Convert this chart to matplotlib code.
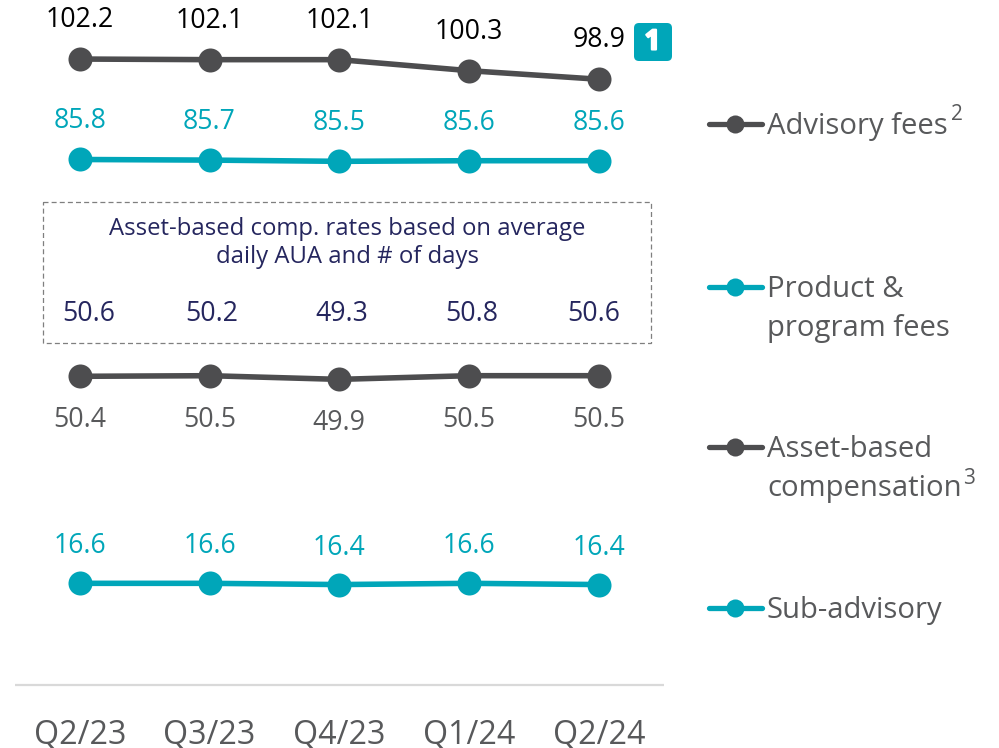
import matplotlib
matplotlib.use("Agg")
import matplotlib.pyplot as plt
import matplotlib.patheffects as pe
from matplotlib.lines import Line2D
from matplotlib.patches import Rectangle, FancyBboxPatch
from matplotlib.transforms import Affine2D

plt.rcParams['font.family'] = ['Open Sans', 'DejaVu Sans']

quarters = ["Q2/23", "Q3/23", "Q4/23", "Q1/24", "Q2/24"]
advisory = [102.2, 102.1, 102.1, 100.3, 98.9]
product = [85.8, 85.7, 85.5, 85.6, 85.6]
asset_based = [50.4, 50.5, 49.9, 50.5, 50.5]
sub_advisory = [16.6, 16.6, 16.4, 16.6, 16.4]
rates = [50.6, 50.2, 49.3, 50.8, 50.6]
rate_note = "Asset-based comp. rates based on average\ndaily AUA and # of days"
legend_names = ["Advisory fees", "Product &\nprogram fees", "Asset-based\ncompensation", "Sub-advisory"]
legend_sups = ["2", None, "3", None]

W, H = 999, 748
GRAY = "#4d4d4f"
TEAL = "#00a6b9"
TXT = "#58595b"
NAVY = "#25265e"
FS = 19.2

fig = plt.figure(figsize=(W / 100, H / 100), dpi=100)
ax = fig.add_axes([14.8 / W, 1 - 685 / H, (664 - 15) / W, 685 / H])
ax.set_xlim(-0.5, 4.5)
ax.set_ylim(0, 111.84)
for s in ("top", "left", "right"):
    ax.spines[s].set_visible(False)
ax.spines["bottom"].set_color("#d9d9d9")
ax.spines["bottom"].set_linewidth(1.6)
ax.spines["bottom"].set_capstyle("butt")
ax.set_yticks([])
ax.set_xticks(range(5))
ax.set_xticklabels(quarters, fontsize=23.2, color=TXT)
ax.tick_params(axis="x", length=0, pad=24)

px = Affine2D().scale(1, -1).translate(0, H)  # reference pixel coords

series = [
    (advisory, GRAY, "black", -39),
    (product, TEAL, TEAL, -38),
    (asset_based, GRAY, TXT, 44),
    (sub_advisory, TEAL, TEAL, -37),
]
for vals, col, tcol, off in series:
    ax.plot(range(5), vals, color=col, lw=4.0, marker="o", ms=17.3, mec="none",
            solid_capstyle="round", zorder=3)
    for i, v in enumerate(vals):
        ax.annotate(f"{v:.1f}", (i, v), xytext=(0, -off), textcoords="offset pixels",
                    ha="center", va="center", fontsize=FS, color=tcol)

# dashed note box
fig.add_artist(Rectangle((42.9, 202), 608, 140.5, transform=px, fill=False,
                         ec="#7f7f7f", lw=0.9, ls=(0, (4, 2.5))))
fig.text(347.3 / W, 1 - 243 / H, rate_note, ha="center", va="center", fontsize=17.2,
         color=NAVY, linespacing=1.21)
rate_x = [89, 212, 342, 472, 594]
for x, r in zip(rate_x, rates):
    fig.text(x / W, 1 - 314 / H, f"{r:.1f}", ha="center", va="center", fontsize=FS, color=NAVY)

# badge
fig.add_artist(FancyBboxPatch((637, 26), 32, 32, boxstyle="round,pad=3,rounding_size=5",
                              transform=px, fc=TEAL, ec="none"))
fig.text(652.5 / W, 1 - 42 / H, "1", ha="center", va="center", fontsize=20, fontweight="bold",
         color="white", path_effects=[pe.withStroke(linewidth=1.5, foreground="white")])

# legend
key_y = [124, 287, 447, 608]
key_col = [GRAY, TEAL, GRAY, TEAL]
sup_pos = [(957, 114), None, (969, 478), None]
for y, c, name, sup, sp in zip(key_y, key_col, legend_names, legend_sups, sup_pos):
    fig.add_artist(Line2D([709, 762], [y, y], transform=px, color=c, lw=3.8, solid_capstyle="round"))
    fig.add_artist(Line2D([735], [y], transform=px, color=c, marker="o", ms=13, mec="none"))
    fig.text(767 / W, 1 - (y - 12 - (1 if y in (124, 608) else 0) * 0) / H, name, ha="left", va="top",
             fontsize=21.1, color=TXT, linespacing=1.47)
    if sup:
        fig.text(sp[0] / W, 1 - sp[1] / H, sup, ha="center", va="center", fontsize=15, color=TXT)

fig.savefig("out.png", dpi=100)
